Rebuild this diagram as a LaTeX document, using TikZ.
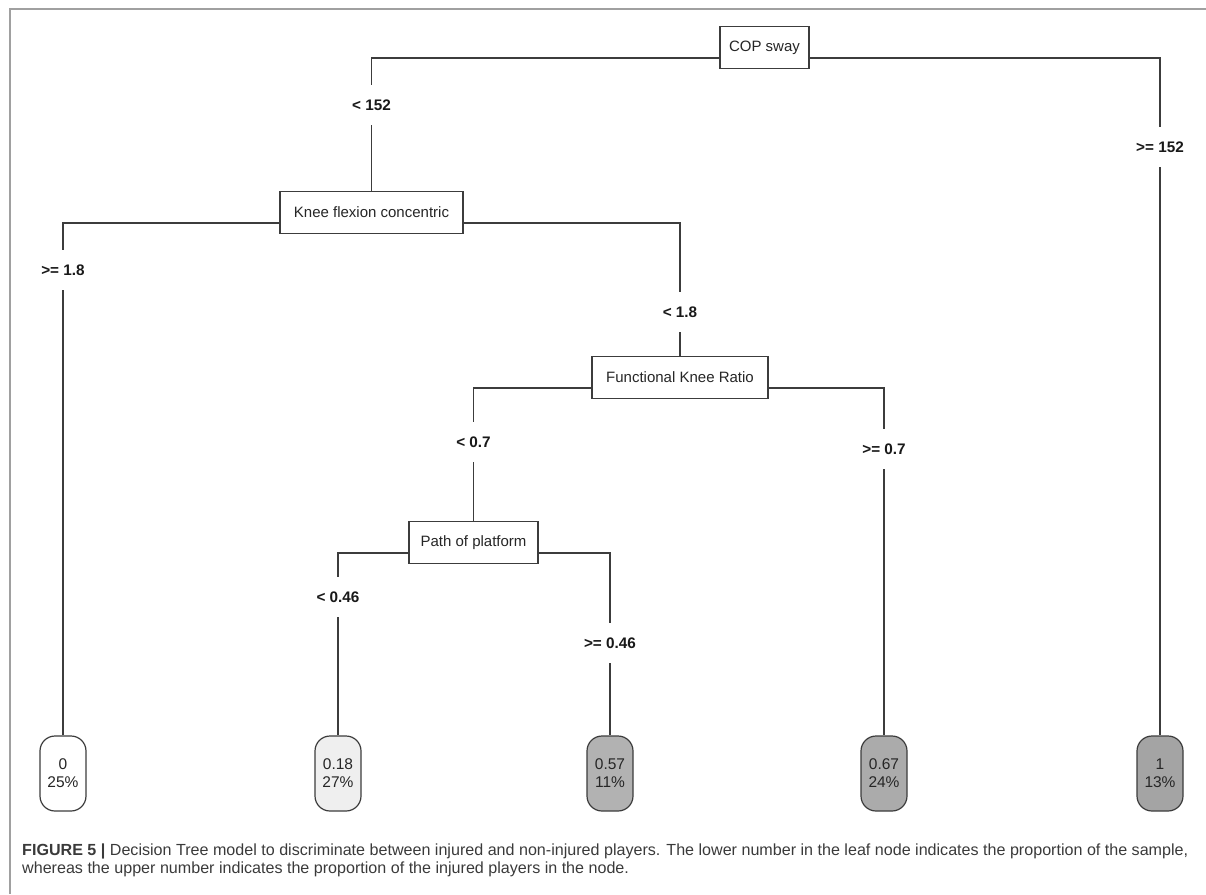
\documentclass[tikz,border=0pt]{standalone}
\usepackage{fontspec}
\setmainfont{Liberation Sans}
\usetikzlibrary{calc}
\definecolor{treeline}{HTML}{3C3C3C}
\definecolor{framegray}{HTML}{A0A0A0}
\definecolor{captext}{HTML}{3A3A3A}
\definecolor{leafA}{HTML}{FFFFFF}
\definecolor{leafB}{HTML}{EFEFEF}
\definecolor{leafC}{HTML}{B2B2B2}
\definecolor{leafD}{HTML}{ABABAB}
\definecolor{leafE}{HTML}{A4A4A4}
\begin{document}
\begin{tikzpicture}[x=1pt,y=-1pt,
  split/.style={draw=treeline, line width=1.2pt, fill=white, minimum height=42pt,
    inner sep=0pt, font=\fontsize{15}{18}\selectfont, text=black!85},
  leaf/.style={draw=treeline, line width=1.2pt, rounded corners=15pt,
    minimum width=46pt, minimum height=75pt, inner sep=0pt, align=center,
    font=\fontsize{15.5}{18}\selectfont, text=black!85},
  cond/.style={fill=white, inner xsep=3pt, inner ysep=15pt,
    font=\bfseries\fontsize{15.3}{18}\selectfont, text=black!90},
  edge/.style={draw=treeline, line width=1.2pt},
  captxt/.style={anchor=base west, inner sep=0pt, text=captext,
    font=\fontsize{16.1}{18}\selectfont},
]
\useasboundingbox (0,0) rectangle (1206,894);

% frame lines
\draw[framegray, line width=1.8pt] (10,894) -- (10,9.3) -- (1206,9.3);

% split nodes
\node[split, minimum width=89pt]  (cop)  at (764.5,47.5)  {COP sway};
\node[split, minimum width=183pt] (knee) at (371.5,212.5) {Knee flexion concentric};
\node[split, minimum width=176pt] (fkr)  at (680,377.5)   {Functional Knee Ratio};
\node[split, minimum width=129pt] (path) at (473.5,542.5) {Path of platform};

% leaf nodes
\node[leaf, fill=leafA] (l1) at (63,773.5)   {0\\25\%};
\node[leaf, fill=leafB] (l2) at (338,773.5)  {0.18\\27\%};
\node[leaf, fill=leafC] (l3) at (610,773.5)  {0.57\\11\%};
\node[leaf, fill=leafD] (l4) at (884,773.5)  {0.67\\24\%};
\node[leaf, fill=leafE] (l5) at (1160,773.5) {1\\13\%};

% branches
\draw[edge] ($(cop.west)+(0,10.5)$)  -| (knee.north);
\draw[edge] ($(cop.east)+(0,10.5)$)  -| (l5.north);
\draw[edge] ($(knee.west)+(0,10.5)$) -| (l1.north);
\draw[edge] ($(knee.east)+(0,10.5)$) -| (fkr.north);
\draw[edge] ($(fkr.west)+(0,10.5)$)  -| (path.north);
\draw[edge] ($(fkr.east)+(0,10.5)$)  -| (l4.north);
\draw[edge] ($(path.west)+(0,10.5)$) -| (l2.north);
\draw[edge] ($(path.east)+(0,10.5)$) -| (l3.north);

% split conditions
\node[cond] (c1) at (371.5,105) {< 152};
\node[cond] (c2) at (1160,147)  {>= 152};
\node[cond] (c3) at (63,270)    {>= 1.8};
\node[cond] (c4) at (680,312)   {< 1.8};
\node[cond] (c5) at (473.5,442) {< 0.7};
\node[cond] (c6) at (884,449)   {>= 0.7};
\node[cond] (c7) at (338,597)   {< 0.46};
\node[cond] (c8) at (610,643)   {>= 0.46};

% caption
\node[captxt] (cap1) at (22,855) {\textbf{FIGURE 5 |} Decision Tree model to discriminate between injured and non-injured players. The lower number in the leaf node indicates the proportion of the sample,};
\node[captxt] (cap2) at (22,873) {whereas the upper number indicates the proportion of the injured players in the node.};
\end{tikzpicture}
\end{document}
